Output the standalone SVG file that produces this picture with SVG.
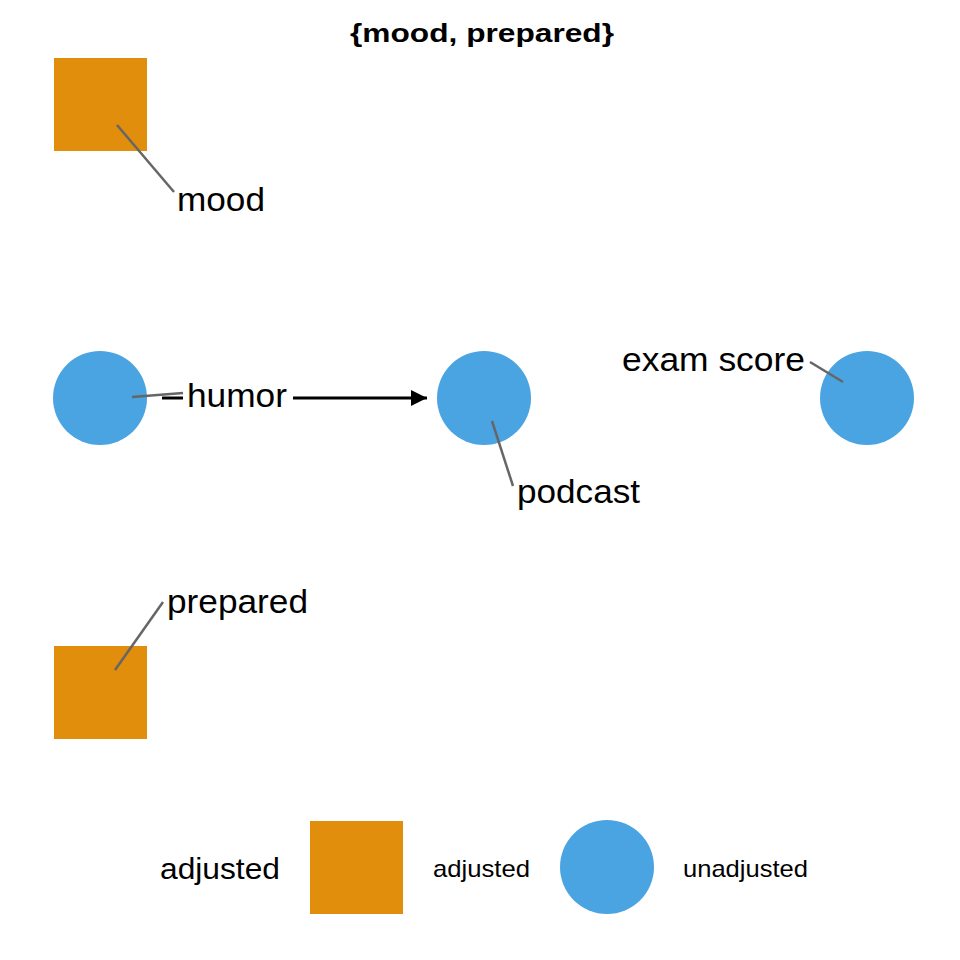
<svg xmlns="http://www.w3.org/2000/svg" width="960" height="960" viewBox="0 0 960 960">
  <defs>
    <marker id="arrow" markerWidth="18" markerHeight="18" refX="16" refY="8" orient="auto" markerUnits="userSpaceOnUse">
      <path d="M0,0 L16,8 L0,16 Z" fill="#000"/>
    </marker>
  </defs>
  <style>
    .adj { fill: #E08E0B; }
    .unadj { fill: #4AA4E2; }
    .lbl { font-family: "Liberation Sans", Arial, sans-serif; font-size: 33px; fill: #000; }
    .leader { stroke: #666; stroke-width: 2.5; fill: none; }
    .edge { stroke: #000; stroke-width: 3; fill: none; }
    .title { font-family: "Liberation Sans", Arial, sans-serif; font-size: 26px; font-weight: bold; fill: #000; }
    .leg { font-family: "Liberation Sans", Arial, sans-serif; font-size: 24px; fill: #000; }
    .legtitle { font-family: "Liberation Sans", Arial, sans-serif; font-size: 30px; fill: #000; }
  </style>
  <rect width="960" height="960" fill="#fff"/>

  <text class="title" x="350" y="42" textLength="264" lengthAdjust="spacingAndGlyphs">{mood, prepared}</text>

  <!-- edges -->
  <g id="edges">
    <line class="edge" x1="162" y1="398" x2="183" y2="398"/>
    <line class="edge" x1="293" y1="398" x2="427" y2="398" marker-end="url(#arrow)"/>
  </g>

  <!-- nodes -->
  <g id="node-mood">
    <rect class="adj" x="54" y="58" width="93" height="93"/>
    <line class="leader" x1="117" y1="125" x2="174" y2="192"/>
    <text class="lbl" x="177" y="211" textLength="88" lengthAdjust="spacingAndGlyphs">mood</text>
  </g>
  <g id="node-humor">
    <circle class="unadj" cx="100" cy="398" r="47"/>
    <line class="leader" x1="132" y1="397" x2="183" y2="393"/>
    <text class="lbl" x="187" y="407" textLength="100" lengthAdjust="spacingAndGlyphs">humor</text>
  </g>
  <g id="node-podcast">
    <circle class="unadj" cx="484" cy="398" r="47"/>
    <line class="leader" x1="492" y1="421" x2="513" y2="486"/>
    <text class="lbl" x="517" y="503" textLength="123" lengthAdjust="spacingAndGlyphs">podcast</text>
  </g>
  <g id="node-exam-score">
    <circle class="unadj" cx="867" cy="398" r="47"/>
    <line class="leader" x1="810" y1="362" x2="843" y2="382"/>
    <text class="lbl" x="622" y="371" textLength="183" lengthAdjust="spacingAndGlyphs">exam score</text>
  </g>
  <g id="node-prepared">
    <rect class="adj" x="54" y="646" width="93" height="93"/>
    <line class="leader" x1="115" y1="670" x2="163" y2="602"/>
    <text class="lbl" x="167" y="613" textLength="141" lengthAdjust="spacingAndGlyphs">prepared</text>
  </g>

  <!-- legend -->
  <g id="legend">
    <text class="legtitle" x="160" y="879" textLength="120" lengthAdjust="spacingAndGlyphs">adjusted</text>
    <rect class="adj" x="310" y="821" width="93" height="93"/>
    <text class="leg" x="433" y="877" textLength="97" lengthAdjust="spacingAndGlyphs">adjusted</text>
    <circle class="unadj" cx="607" cy="867" r="47"/>
    <text class="leg" x="683" y="877" textLength="125" lengthAdjust="spacingAndGlyphs">unadjusted</text>
  </g>
</svg>
